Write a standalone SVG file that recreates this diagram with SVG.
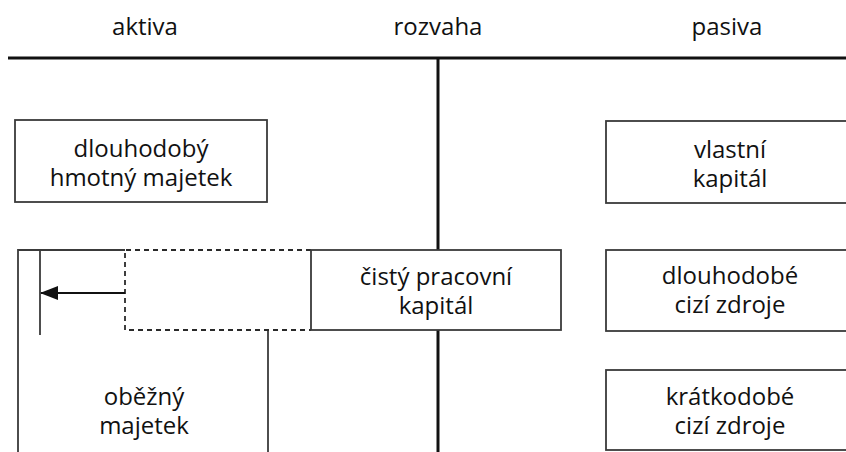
<svg xmlns="http://www.w3.org/2000/svg" width="846" height="452" viewBox="0 0 846 452">
  <style>
    text { font-family: "Open Sans", "Noto Sans", "DejaVu Sans", sans-serif; font-size: 24px; fill: #111111; text-anchor: middle; }
    .box { fill: #ffffff; stroke: #3a3a3a; stroke-width: 1.8; }
    .edge { fill: none; stroke: #3a3a3a; stroke-width: 1.8; }
    .dash { fill: none; stroke: #2a2a2a; stroke-width: 1.8; stroke-dasharray: 5 4; }
    .axis { fill: none; stroke: #111111; stroke-width: 3; }
  </style>
  <defs>
    <marker id="arrowhead" markerWidth="18" markerHeight="14" refX="17" refY="7" orient="auto" markerUnits="userSpaceOnUse">
      <path d="M0,0 L18,7 L0,14 Z" fill="#111111"/>
    </marker>
  </defs>

  <rect width="846" height="452" fill="#ffffff"/>

  <!-- column headings -->
  <g id="headings">
    <text x="145" y="35">aktiva</text>
    <text x="438" y="35">rozvaha</text>
    <text x="727" y="35">pasiva</text>
  </g>

  <!-- balance sheet axes -->
  <g id="axes">
    <line class="axis" x1="8" y1="58" x2="846" y2="58"/>
    <line class="axis" x1="438" y1="58" x2="438" y2="250"/>
    <line class="axis" x1="438" y1="330" x2="438" y2="452"/>
  </g>

  <!-- assets -->
  <g id="fixed-assets">
    <rect class="box" x="15" y="120" width="252" height="82"/>
    <text x="141" y="156.5">dlouhodobý</text>
    <text x="141" y="185.5">hmotný majetek</text>
  </g>

  <g id="current-assets">
    <path class="edge" d="M18,460 V250 H125"/>
    <line class="edge" x1="268" y1="330" x2="268" y2="460"/>
    <line class="edge" x1="40" y1="250" x2="40" y2="335"/>
    <text x="144" y="404.5">oběžný</text>
    <text x="144" y="433.5">majetek</text>
  </g>

  <g id="working-capital-share">
    <path class="dash" d="M311,250 H125 V330 H311"/>
  </g>

  <!-- net working capital -->
  <g id="net-working-capital">
    <rect class="box" x="311" y="250" width="250" height="80"/>
    <text x="436" y="285">čistý pracovní</text>
    <text x="436" y="314">kapitál</text>
  </g>

  <!-- liabilities -->
  <g id="equity">
    <rect class="box" x="606" y="121" width="260" height="82"/>
    <text x="730" y="157.5">vlastní</text>
    <text x="730" y="186.5">kapitál</text>
  </g>

  <g id="long-term-liabilities">
    <rect class="box" x="606" y="250" width="260" height="81"/>
    <text x="730" y="284">dlouhodobé</text>
    <text x="730" y="313">cizí zdroje</text>
  </g>

  <g id="short-term-liabilities">
    <rect class="box" x="606" y="370" width="260" height="80"/>
    <text x="730" y="404.5">krátkodobé</text>
    <text x="730" y="433.5">cizí zdroje</text>
  </g>

  <!-- connectors -->
  <g id="connectors">
    <line x1="125" y1="293" x2="41" y2="293" stroke="#111111" stroke-width="2.2" marker-end="url(#arrowhead)"/>
  </g>
</svg>
